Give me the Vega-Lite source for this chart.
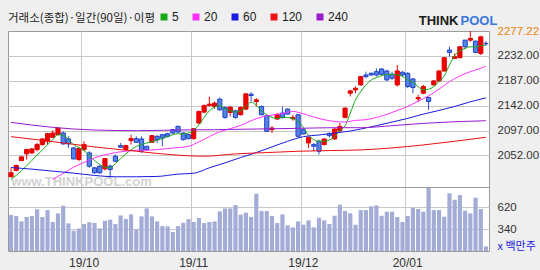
{
  "$schema": "https://vega.github.io/schema/vega-lite/v6.json",
  "background": "#efefef",
  "padding": {"left": 7, "top": 10, "right": 3, "bottom": 2},
  "autosize": {"type": "pad"},
  "bounds": "flush",
  "config": {
    "view": {"fill": "white", "stroke": "#9a9a9a"},
    "font": "Liberation Sans",
    "axis": {"labelFont": "Liberation Sans", "labelFontSize": 11.5, "labelColor": "#333333", "gridColor": "#c8c8c8", "labelOverlap": false}
  },
  "datasets": {
    "k": [
      {"d":"2019-09-09","o":2013.5,"h":2029.7,"l":2013.5,"c":2020.7,"v":520},
      {"d":"2019-09-10","o":2024.9,"h":2035.7,"l":2023.7,"c":2033.9,"v":507},
      {"d":"2019-09-11","o":2042.9,"h":2050.7,"l":2041.7,"c":2049.5,"v":440},
      {"d":"2019-09-16","o":2054.9,"h":2064.5,"l":2044.7,"c":2062.7,"v":495},
      {"d":"2019-09-17","o":2056.7,"h":2065.0,"l":2055.0,"c":2063.9,"v":507},
      {"d":"2019-09-18","o":2062.7,"h":2074.7,"l":2059.7,"c":2071.7,"v":591},
      {"d":"2019-09-19","o":2071.7,"h":2083.0,"l":2070.0,"c":2081.9,"v":495},
      {"d":"2019-09-20","o":2077.7,"h":2092.7,"l":2071.7,"c":2091.5,"v":582},
      {"d":"2019-09-23","o":2084.9,"h":2097.5,"l":2083.7,"c":2092.7,"v":432},
      {"d":"2019-09-24","o":2089.7,"h":2103.0,"l":2088.0,"c":2101.7,"v":541},
      {"d":"2019-09-25","o":2092.7,"h":2095.7,"l":2071.7,"c":2072.9,"v":637},
      {"d":"2019-09-26","o":2081.9,"h":2086.7,"l":2065.7,"c":2072.9,"v":415},
      {"d":"2019-09-27","o":2065.7,"h":2066.9,"l":2044.7,"c":2045.9,"v":323},
      {"d":"2019-09-30","o":2044.7,"h":2065.7,"l":2041.7,"c":2064.5,"v":352},
      {"d":"2019-10-01","o":2062.7,"h":2077.7,"l":2059.7,"c":2071.7,"v":407},
      {"d":"2019-10-02","o":2056.7,"h":2059.7,"l":2029.7,"c":2032.7,"v":428},
      {"d":"2019-10-04","o":2029.7,"h":2031.0,"l":2019.0,"c":2020.7,"v":419},
      {"d":"2019-10-07","o":2032.7,"h":2034.0,"l":2019.0,"c":2020.7,"v":352},
      {"d":"2019-10-08","o":2027.9,"h":2047.7,"l":2024.9,"c":2046.5,"v":449},
      {"d":"2019-10-10","o":2032.7,"h":2035.7,"l":2011.7,"c":2026.7,"v":461},
      {"d":"2019-10-11","o":2050.7,"h":2053.7,"l":2040.5,"c":2041.7,"v":407},
      {"d":"2019-10-14","o":2069.9,"h":2074.7,"l":2065.7,"c":2066.9,"v":515},
      {"d":"2019-10-15","o":2062.7,"h":2071.7,"l":2060.9,"c":2069.9,"v":469},
      {"d":"2019-10-16","o":2078.9,"h":2089.7,"l":2071.7,"c":2082.5,"v":528},
      {"d":"2019-10-17","o":2082.5,"h":2086.7,"l":2074.7,"c":2075.9,"v":340},
      {"d":"2019-10-18","o":2081.9,"h":2086.7,"l":2056.7,"c":2059.7,"v":503},
      {"d":"2019-10-21","o":2068.7,"h":2068.7,"l":2060.9,"c":2062.7,"v":603},
      {"d":"2019-10-22","o":2075.9,"h":2089.0,"l":2075.0,"c":2087.9,"v":503},
      {"d":"2019-10-23","o":2086.7,"h":2088.5,"l":2074.7,"c":2080.7,"v":440},
      {"d":"2019-10-24","o":2089.7,"h":2090.9,"l":2068.7,"c":2083.7,"v":381},
      {"d":"2019-10-25","o":2091.5,"h":2093.0,"l":2085.0,"c":2086.7,"v":377},
      {"d":"2019-10-28","o":2098.7,"h":2100.0,"l":2091.0,"c":2092.7,"v":306},
      {"d":"2019-10-29","o":2104.7,"h":2105.9,"l":2092.7,"c":2094.5,"v":381},
      {"d":"2019-10-30","o":2092.7,"h":2094.0,"l":2079.0,"c":2080.7,"v":423},
      {"d":"2019-10-31","o":2089.7,"h":2091.0,"l":2081.0,"c":2082.5,"v":469},
      {"d":"2019-11-01","o":2082.5,"h":2101.7,"l":2080.7,"c":2100.5,"v":432},
      {"d":"2019-11-04","o":2110.7,"h":2132.9,"l":2108.9,"c":2131.7,"v":482},
      {"d":"2019-11-05","o":2130.5,"h":2144.0,"l":2129.0,"c":2142.5,"v":419},
      {"d":"2019-11-06","o":2142.5,"h":2158.7,"l":2140.7,"c":2144.9,"v":432},
      {"d":"2019-11-07","o":2140.7,"h":2149.7,"l":2136.5,"c":2146.7,"v":440},
      {"d":"2019-11-08","o":2153.9,"h":2156.9,"l":2132.9,"c":2134.7,"v":566},
      {"d":"2019-11-11","o":2138.9,"h":2140.7,"l":2118.5,"c":2120.9,"v":603},
      {"d":"2019-11-12","o":2129.9,"h":2140.7,"l":2122.7,"c":2139.5,"v":603},
      {"d":"2019-11-13","o":2132.9,"h":2134.7,"l":2118.5,"c":2120.9,"v":645},
      {"d":"2019-11-14","o":2125.7,"h":2140.7,"l":2124.5,"c":2138.9,"v":524},
      {"d":"2019-11-15","o":2135.9,"h":2164.7,"l":2134.7,"c":2163.5,"v":549},
      {"d":"2019-11-18","o":2162.9,"h":2166.5,"l":2149.7,"c":2160.5,"v":495},
      {"d":"2019-11-19","o":2149.7,"h":2155.7,"l":2140.7,"c":2152.7,"v":788},
      {"d":"2019-11-20","o":2140.7,"h":2142.5,"l":2124.5,"c":2125.7,"v":570},
      {"d":"2019-11-21","o":2123.9,"h":2125.7,"l":2094.5,"c":2095.7,"v":570},
      {"d":"2019-11-22","o":2098.7,"h":2104.7,"l":2092.7,"c":2101.7,"v":507},
      {"d":"2019-11-25","o":2117.9,"h":2128.7,"l":2116.7,"c":2125.7,"v":419},
      {"d":"2019-11-26","o":2128.7,"h":2140.7,"l":2118.5,"c":2120.9,"v":528},
      {"d":"2019-11-27","o":2135.9,"h":2137.0,"l":2126.0,"c":2126.9,"v":390},
      {"d":"2019-11-28","o":2118.5,"h":2125.7,"l":2114.9,"c":2120.9,"v":365},
      {"d":"2019-11-29","o":2125.7,"h":2126.9,"l":2084.9,"c":2086.7,"v":440},
      {"d":"2019-12-02","o":2098.7,"h":2100.0,"l":2090.0,"c":2090.9,"v":398},
      {"d":"2019-12-03","o":2074.7,"h":2084.9,"l":2065.7,"c":2084.9,"v":453},
      {"d":"2019-12-04","o":2071.7,"h":2074.7,"l":2059.7,"c":2068.7,"v":365},
      {"d":"2019-12-05","o":2077.7,"h":2080.7,"l":2053.7,"c":2059.7,"v":486},
      {"d":"2019-12-06","o":2071.7,"h":2083.0,"l":2070.0,"c":2081.9,"v":453},
      {"d":"2019-12-09","o":2091.5,"h":2093.9,"l":2084.9,"c":2087.9,"v":407},
      {"d":"2019-12-10","o":2081.9,"h":2101.0,"l":2080.5,"c":2099.9,"v":511},
      {"d":"2019-12-11","o":2096.9,"h":2110.7,"l":2092.7,"c":2104.7,"v":649},
      {"d":"2019-12-12","o":2120.9,"h":2139.0,"l":2119.5,"c":2137.7,"v":570},
      {"d":"2019-12-13","o":2164.7,"h":2170.7,"l":2158.7,"c":2168.9,"v":541},
      {"d":"2019-12-16","o":2170.7,"h":2176.7,"l":2164.7,"c":2173.7,"v":398},
      {"d":"2019-12-17","o":2179.7,"h":2196.0,"l":2178.0,"c":2194.7,"v":582},
      {"d":"2019-12-18","o":2197.7,"h":2203.7,"l":2191.7,"c":2194.7,"v":582},
      {"d":"2019-12-19","o":2200.7,"h":2202.0,"l":2196.0,"c":2197.7,"v":629},
      {"d":"2019-12-20","o":2203.7,"h":2209.7,"l":2194.7,"c":2197.7,"v":641},
      {"d":"2019-12-23","o":2208.5,"h":2210.0,"l":2197.5,"c":2198.9,"v":511},
      {"d":"2019-12-24","o":2204.9,"h":2206.7,"l":2186.9,"c":2188.7,"v":562},
      {"d":"2019-12-26","o":2198.9,"h":2203.7,"l":2188.7,"c":2191.7,"v":562},
      {"d":"2019-12-27","o":2179.7,"h":2215.7,"l":2176.7,"c":2204.9,"v":495},
      {"d":"2019-12-30","o":2202.5,"h":2204.9,"l":2194.7,"c":2197.7,"v":432},
      {"d":"2020-01-02","o":2200.7,"h":2202.5,"l":2173.7,"c":2176.7,"v":507},
      {"d":"2020-01-03","o":2190.5,"h":2191.7,"l":2164.7,"c":2174.9,"v":612},
      {"d":"2020-01-06","o":2154.5,"h":2161.7,"l":2148.5,"c":2156.9,"v":595},
      {"d":"2020-01-07","o":2164.7,"h":2179.7,"l":2162.9,"c":2176.7,"v":562},
      {"d":"2020-01-08","o":2156.9,"h":2158.7,"l":2134.7,"c":2149.7,"v":863},
      {"d":"2020-01-09","o":2179.7,"h":2188.0,"l":2178.5,"c":2186.9,"v":582},
      {"d":"2020-01-10","o":2186.9,"h":2206.0,"l":2186.0,"c":2204.9,"v":582},
      {"d":"2020-01-13","o":2204.9,"h":2230.0,"l":2204.0,"c":2228.9,"v":499},
      {"d":"2020-01-14","o":2242.7,"h":2248.7,"l":2230.7,"c":2238.5,"v":792},
      {"d":"2020-01-15","o":2227.7,"h":2236.7,"l":2226.5,"c":2230.7,"v":712},
      {"d":"2020-01-16","o":2228.9,"h":2250.0,"l":2228.0,"c":2248.7,"v":771},
      {"d":"2020-01-17","o":2260.7,"h":2260.7,"l":2244.5,"c":2248.7,"v":574},
      {"d":"2020-01-20","o":2260.7,"h":2277.2,"l":2257.7,"c":2263.7,"v":541},
      {"d":"2020-01-21","o":2258.9,"h":2260.0,"l":2237.0,"c":2238.5,"v":737},
      {"d":"2020-01-22","o":2236.7,"h":2268.5,"l":2233.7,"c":2266.7,"v":595},
      {"d":"2020-01-23","o":2254.7,"h":2258.9,"l":2250.5,"c":2254.1,"v":126}
    ],
    "ma": [
      {"d":"2019-09-09","m":"5","v":2008.7},{"d":"2019-09-11","m":"5","v":2024.3},{"d":"2019-09-17","m":"5","v":2042.9},{"d":"2019-09-19","m":"5","v":2062.1},{"d":"2019-09-23","m":"5","v":2080.7},{"d":"2019-09-24","m":"5","v":2089.7},{"d":"2019-09-25","m":"5","v":2088.5},{"d":"2019-09-27","m":"5","v":2071.7},{"d":"2019-10-01","m":"5","v":2060.9},{"d":"2019-10-04","m":"5","v":2042.9},{"d":"2019-10-08","m":"5","v":2030.9},{"d":"2019-10-10","m":"5","v":2029.7},{"d":"2019-10-11","m":"5","v":2037.5},{"d":"2019-10-15","m":"5","v":2054.9},{"d":"2019-10-17","m":"5","v":2068.1},{"d":"2019-10-21","m":"5","v":2074.7},{"d":"2019-10-23","m":"5","v":2079.5},{"d":"2019-10-25","m":"5","v":2086.1},{"d":"2019-10-29","m":"5","v":2091.5},{"d":"2019-10-30","m":"5","v":2090.9},{"d":"2019-10-31","m":"5","v":2092.7},{"d":"2019-11-01","m":"5","v":2096.9},{"d":"2019-11-04","m":"5","v":2107.7},{"d":"2019-11-05","m":"5","v":2120.9},{"d":"2019-11-06","m":"5","v":2132.9},{"d":"2019-11-07","m":"5","v":2139.5},{"d":"2019-11-08","m":"5","v":2142.5},{"d":"2019-11-11","m":"5","v":2136.5},{"d":"2019-11-12","m":"5","v":2132.9},{"d":"2019-11-13","m":"5","v":2130.5},{"d":"2019-11-14","m":"5","v":2132.9},{"d":"2019-11-15","m":"5","v":2140.1},{"d":"2019-11-18","m":"5","v":2148.5},{"d":"2019-11-19","m":"5","v":2142.5},{"d":"2019-11-20","m":"5","v":2132.9},{"d":"2019-11-21","m":"5","v":2125.7},{"d":"2019-11-22","m":"5","v":2120.9},{"d":"2019-11-25","m":"5","v":2118.5},{"d":"2019-11-26","m":"5","v":2120.9},{"d":"2019-11-27","m":"5","v":2120.9},{"d":"2019-11-28","m":"5","v":2118.5},{"d":"2019-11-29","m":"5","v":2113.7},{"d":"2019-12-02","m":"5","v":2102.9},{"d":"2019-12-03","m":"5","v":2088.5},{"d":"2019-12-04","m":"5","v":2080.7},{"d":"2019-12-05","m":"5","v":2077.7},{"d":"2019-12-06","m":"5","v":2077.7},{"d":"2019-12-09","m":"5","v":2080.1},{"d":"2019-12-10","m":"5","v":2086.1},{"d":"2019-12-11","m":"5","v":2096.9},{"d":"2019-12-12","m":"5","v":2105.9},{"d":"2019-12-13","m":"5","v":2128.7},{"d":"2019-12-16","m":"5","v":2152.7},{"d":"2019-12-17","m":"5","v":2167.7},{"d":"2019-12-18","m":"5","v":2179.7},{"d":"2019-12-19","m":"5","v":2188.7},{"d":"2019-12-20","m":"5","v":2192.9},{"d":"2019-12-23","m":"5","v":2196.5},{"d":"2019-12-24","m":"5","v":2198.3},{"d":"2019-12-26","m":"5","v":2198.9},{"d":"2019-12-27","m":"5","v":2197.7},{"d":"2019-12-30","m":"5","v":2195.3},{"d":"2020-01-02","m":"5","v":2188.7},{"d":"2020-01-03","m":"5","v":2184.5},{"d":"2020-01-06","m":"5","v":2176.7},{"d":"2020-01-07","m":"5","v":2170.7},{"d":"2020-01-08","m":"5","v":2171.9},{"d":"2020-01-09","m":"5","v":2176.7},{"d":"2020-01-10","m":"5","v":2185.7},{"d":"2020-01-13","m":"5","v":2195.9},{"d":"2020-01-14","m":"5","v":2215.7},{"d":"2020-01-15","m":"5","v":2232.5},{"d":"2020-01-16","m":"5","v":2241.5},{"d":"2020-01-17","m":"5","v":2245.7},{"d":"2020-01-20","m":"5","v":2248.7},{"d":"2020-01-21","m":"5","v":2248.1},{"d":"2020-01-22","m":"5","v":2250.5},{"d":"2020-01-23","m":"5","v":2251.7},
      {"d":"2019-09-23","m":"20","v":2008.7},{"d":"2019-09-25","m":"20","v":2019.5},{"d":"2019-09-27","m":"20","v":2030.9},{"d":"2019-10-01","m":"20","v":2039.3},{"d":"2019-10-04","m":"20","v":2047.7},{"d":"2019-10-08","m":"20","v":2053.1},{"d":"2019-10-11","m":"20","v":2057.3},{"d":"2019-10-15","m":"20","v":2059.7},{"d":"2019-10-17","m":"20","v":2061.5},{"d":"2019-10-21","m":"20","v":2061.5},{"d":"2019-10-23","m":"20","v":2062.7},{"d":"2019-10-25","m":"20","v":2064.5},{"d":"2019-10-29","m":"20","v":2066.3},{"d":"2019-10-31","m":"20","v":2068.7},{"d":"2019-11-04","m":"20","v":2076.5},{"d":"2019-11-06","m":"20","v":2086.1},{"d":"2019-11-08","m":"20","v":2095.1},{"d":"2019-11-12","m":"20","v":2100.5},{"d":"2019-11-14","m":"20","v":2106.5},{"d":"2019-11-18","m":"20","v":2114.9},{"d":"2019-11-20","m":"20","v":2121.5},{"d":"2019-11-22","m":"20","v":2125.1},{"d":"2019-11-26","m":"20","v":2128.1},{"d":"2019-11-28","m":"20","v":2131.7},{"d":"2019-12-02","m":"20","v":2127.5},{"d":"2019-12-04","m":"20","v":2121.5},{"d":"2019-12-06","m":"20","v":2116.7},{"d":"2019-12-10","m":"20","v":2113.7},{"d":"2019-12-12","m":"20","v":2112.5},{"d":"2019-12-16","m":"20","v":2115.5},{"d":"2019-12-18","m":"20","v":2116.7},{"d":"2019-12-20","m":"20","v":2120.9},{"d":"2019-12-24","m":"20","v":2126.3},{"d":"2019-12-27","m":"20","v":2133.5},{"d":"2020-01-02","m":"20","v":2140.7},{"d":"2020-01-06","m":"20","v":2150.3},{"d":"2020-01-08","m":"20","v":2159.9},{"d":"2020-01-10","m":"20","v":2171.9},{"d":"2020-01-14","m":"20","v":2185.7},{"d":"2020-01-16","m":"20","v":2195.9},{"d":"2020-01-20","m":"20","v":2203.7},{"d":"2020-01-22","m":"20","v":2209.7},{"d":"2020-01-23","m":"20","v":2213.3},
      {"d":"2019-09-09","m":"60","v":2030.3},{"d":"2019-09-17","m":"60","v":2027.3},{"d":"2019-09-23","m":"60","v":2023.7},{"d":"2019-09-27","m":"60","v":2020.1},{"d":"2019-10-04","m":"60","v":2015.9},{"d":"2019-10-11","m":"60","v":2013.5},{"d":"2019-10-17","m":"60","v":2013.5},{"d":"2019-10-23","m":"60","v":2014.1},{"d":"2019-10-29","m":"60","v":2018.3},{"d":"2019-11-01","m":"60","v":2019.9},{"d":"2019-11-06","m":"60","v":2029.7},{"d":"2019-11-11","m":"60","v":2038.7},{"d":"2019-11-14","m":"60","v":2048.3},{"d":"2019-11-19","m":"60","v":2057.3},{"d":"2019-11-22","m":"60","v":2067.5},{"d":"2019-11-27","m":"60","v":2077.7},{"d":"2019-12-02","m":"60","v":2086.1},{"d":"2019-12-05","m":"60","v":2089.1},{"d":"2019-12-10","m":"60","v":2092.7},{"d":"2019-12-13","m":"60","v":2096.3},{"d":"2019-12-17","m":"60","v":2099.9},{"d":"2019-12-20","m":"60","v":2105.9},{"d":"2019-12-26","m":"60","v":2112.5},{"d":"2020-01-02","m":"60","v":2119.1},{"d":"2020-01-07","m":"60","v":2126.9},{"d":"2020-01-10","m":"60","v":2133.5},{"d":"2020-01-15","m":"60","v":2140.7},{"d":"2020-01-20","m":"60","v":2149.1},{"d":"2020-01-23","m":"60","v":2156.3},
      {"d":"2019-09-09","m":"120","v":2086.1},{"d":"2019-09-23","m":"120","v":2077.1},{"d":"2019-10-04","m":"120","v":2067.5},{"d":"2019-10-17","m":"120","v":2059.7},{"d":"2019-10-29","m":"120","v":2052.5},{"d":"2019-11-05","m":"120","v":2050.7},{"d":"2019-11-13","m":"120","v":2054.9},{"d":"2019-11-21","m":"120","v":2057.3},{"d":"2019-11-29","m":"120","v":2059.7},{"d":"2019-12-09","m":"120","v":2060.9},{"d":"2019-12-17","m":"120","v":2062.1},{"d":"2019-12-26","m":"120","v":2065.7},{"d":"2020-01-07","m":"120","v":2071.1},{"d":"2020-01-15","m":"120","v":2077.7},{"d":"2020-01-23","m":"120","v":2084.9},
      {"d":"2019-09-09","m":"240","v":2111.9},{"d":"2019-09-23","m":"240","v":2102.9},{"d":"2019-10-04","m":"240","v":2098.1},{"d":"2019-10-17","m":"240","v":2096.9},{"d":"2019-10-29","m":"240","v":2098.1},{"d":"2019-11-07","m":"240","v":2098.7},{"d":"2019-11-19","m":"240","v":2099.9},{"d":"2019-11-29","m":"240","v":2101.1},{"d":"2019-12-10","m":"240","v":2102.3},{"d":"2019-12-17","m":"240","v":2102.3},{"d":"2019-12-26","m":"240","v":2105.9},{"d":"2020-01-07","m":"240","v":2110.1},{"d":"2020-01-15","m":"240","v":2113.1},{"d":"2020-01-23","m":"240","v":2114.9}
    ]
  },
  "spacing": 0,
  "resolve": {"scale": {"color": "independent"}, "legend": {"color": "independent"}},
  "vconcat": [
    {
      "width": 481,
      "height": 156,
      "layer": [
        {
          "data": {"name": "k"},
          "mark": {"type": "rule", "strokeWidth": 1},
          "encoding": {
            "x": {"field": "d", "type": "ordinal", "scale": {"type": "band", "paddingInner": 0.2, "paddingOuter": 0.175},
              "axis": {"orient": "bottom", "values": ["2019-10-01", "2019-11-01", "2019-12-02", "2020-01-02"], "bandPosition": 0, "labels": false, "ticks": false, "domain": false, "grid": true,
                "title": "THINK", "titleX": 450, "titleY": -167, "titleAlign": "right", "titleBaseline": "middle", "titleAngle": 0,
                "titleFont": "Liberation Sans", "titleFontSize": 13, "titleFontWeight": "bold", "titleColor": "#1a1a1a"}},
            "y": {"field": "l", "type": "quantitative", "scale": {"domain": [1995, 2277.22], "zero": false, "nice": false},
              "axis": {"orient": "right", "values": [2052, 2097, 2142, 2187, 2232, 2277.22], "tickCount": 20, "labelExpr": "format(datum.value, '.2f')", "domain": false, "ticks": false, "labelPadding": 8, "labelOverlap": false,
                "gridColor": {"condition": {"test": "datum.value > 2270", "value": "transparent"}, "value": "#c8c8c8"},
                "labelColor": {"condition": {"test": "datum.value > 2270", "value": "#e8830e"}, "value": "#333333"},
                "title": "www.THINKPOOL.com", "titleAngle": 0, "titleX": -408, "titleY": 150, "titleAlign": "center", "titleBaseline": "middle",
                "titleFont": "Liberation Sans", "titleFontSize": 13, "titleFontWeight": "bold", "titleColor": "#d2d2d2"}},
            "y2": {"field": "h"},
            "color": {"condition": {"test": "datum.c >= datum.o", "value": "#f00000"}, "value": "#2a50d0"}
          }
        },
        {
          "data": {"name": "k"},
          "mark": {"type": "bar", "strokeWidth": 1},
          "encoding": {
            "x": {"field": "d", "type": "ordinal"},
            "y": {"field": "o", "type": "quantitative"},
            "y2": {"field": "c"},
            "fill": {"condition": {"test": "datum.c >= datum.o", "value": "#f00000"}, "value": "#5585e4"},
            "stroke": {"condition": {"test": "datum.c >= datum.o", "value": "#e00000"}, "value": "#2040c8"}
          }
        },
        {
          "data": {"name": "ma"},
          "mark": {"type": "line", "strokeWidth": 1, "interpolate": "monotone"},
          "encoding": {
            "x": {"field": "d", "type": "ordinal"},
            "y": {"field": "v", "type": "quantitative"},
            "color": {"field": "m", "type": "nominal",
              "scale": {"domain": ["5", "20", "60", "120", "240"], "range": ["#18a818", "#ff30ff", "#1a1ae0", "#f01010", "#9a1ad0"]},
              "legend": {"orient": "none", "legendX": 0, "legendY": -20, "direction": "horizontal", "gridAlign": "none",
                "title": "거래소(종합)·일간(90일)·이평", "titleOrient": "left", "titleFont": "Noto Sans CJK KR", "titleFontSize": 11.5, "titleFontWeight": "normal", "titleColor": "#222222", "titlePadding": 2,
                "labelFont": "Liberation Sans", "labelFontSize": 12, "labelColor": "#222222", "labelOffset": 2,
                "symbolType": "square", "symbolSize": 9, "symbolStrokeWidth": 4, "symbolOpacity": 1, "columnPadding": 7}}
          }
        }
      ]
    },
    {
      "width": 481,
      "height": 64,
      "data": {"name": "k"},
      "mark": {"type": "bar", "color": "#a3acd6", "clip": true},
      "encoding": {
        "x": {"field": "d", "type": "ordinal", "scale": {"type": "band", "paddingInner": 0.2, "paddingOuter": 0.175},
          "axis": {"orient": "bottom", "values": ["2019-10-01", "2019-11-01", "2019-12-02", "2020-01-02"], "bandPosition": 0,
            "labelExpr": "slice(datum.value, 2, 4) + '/' + slice(datum.value, 5, 7)", "labelAngle": 0, "labelFontSize": 12, "labelPadding": 6,
            "ticks": false, "domain": false, "grid": true, "labelOverlap": false,
            "title": "POOL", "titleX": 452, "titleY": -231, "titleAlign": "left", "titleBaseline": "middle", "titleAngle": 0,
            "titleFont": "Liberation Sans", "titleFontSize": 13, "titleFontWeight": "bold", "titleColor": "#3a78e0"}},
        "y": {"field": "v", "type": "quantitative", "scale": {"domain": [68, 872], "zero": false, "nice": false},
          "axis": {"orient": "right", "values": [340, 620], "tickCount": 10, "domain": false, "ticks": false, "labelPadding": 8, "grid": true, "labelOverlap": false,
            "title": "x 백만주", "titleAngle": 0, "titleX": 8, "titleY": 59, "titleAlign": "left", "titleBaseline": "middle",
            "titleColor": "#2020e0", "titleFont": "Noto Sans CJK KR", "titleFontSize": 11, "titleFontWeight": "normal"}}
      }
    }
  ]
}
